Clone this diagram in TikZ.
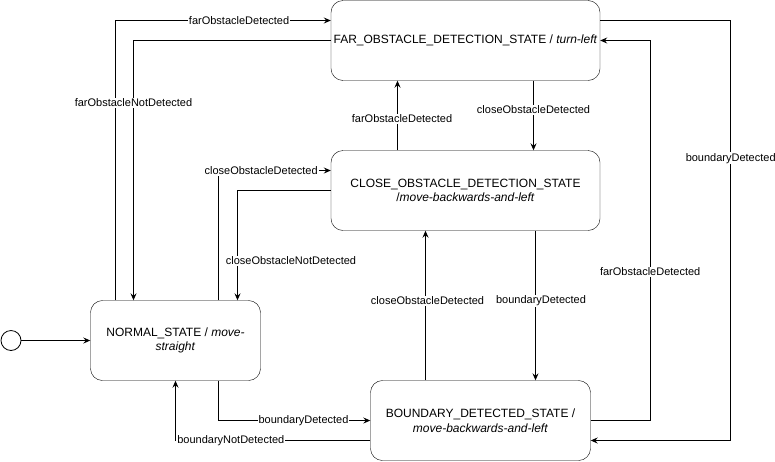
\documentclass[tikz,border=0pt]{standalone}
\usepackage{fontspec}
\setmainfont{Liberation Sans}
\usetikzlibrary{arrows.meta}

\begin{document}
\begin{tikzpicture}[x=1pt,y=-1pt,
    state/.style={draw,rounded corners=12pt,minimum height=80pt,inner sep=0pt,align=center,font=\fontsize{12}{14.5}\selectfont},
    tr/.style={draw,line width=0.8pt,-{Stealth[length=7pt,width=6pt,inset=2.5pt]}},
    lbl/.style={fill=white,inner sep=1pt,font=\fontsize{11}{13}\selectfont}]
\useasboundingbox (0,0) rectangle (775,461);
\node[state,minimum width=269pt] (far) at (465.5,40.5) {FAR\_OBSTACLE\_DETECTION\_STATE / \textit{turn-left}};
\node[state,minimum width=269pt] (close) at (465.5,190.5) {CLOSE\_OBSTACLE\_DETECTION\_STATE\\/\textit{move-backwards-and-left}};
\node[state,minimum width=170pt] (normal) at (175.5,340.5) {NORMAL\_STATE / \textit{move-}\\\textit{straight}};
\node[state,minimum width=220pt] (bound) at (480.5,420.5) {BOUNDARY\_DETECTED\_STATE /\\\textit{move-backwards-and-left}};
\node[draw,circle,line width=0.8pt,minimum size=20pt,inner sep=0pt] (init) at (11,340.5) {};

\draw[tr] (init) -- (normal);
\draw[tr] ([xshift=-60pt]normal.north) |- node[lbl,pos=0.787]{farObstacleDetected} ([yshift=20pt]far.west);
\draw[tr] (far.west) -| node[lbl,pos=0.62]{farObstacleNotDetected} ([xshift=-42pt]normal.north);
\draw[tr] ([xshift=43pt]normal.north) |- node[lbl,pos=0.69]{closeObstacleDetected} ([yshift=20pt]close.west);
\draw[tr] (close.west) -| node[lbl,pos=0.82,xshift=53.5pt]{closeObstacleNotDetected} ([xshift=62pt]normal.north);
\draw[tr] ([xshift=-68pt]close.north) -- node[lbl,pos=0.45,xshift=4.5pt]{farObstacleDetected} ([xshift=-68pt]far.south);
\draw[tr] ([xshift=68pt]far.south) -- node[lbl,pos=0.42]{closeObstacleDetected} ([xshift=68pt]close.north);
\draw[tr] ([xshift=70pt]close.south) -- node[lbl,pos=0.47,xshift=5.5pt]{boundaryDetected} ([xshift=55pt]bound.north);
\draw[tr] ([xshift=-55pt]bound.north) -- node[lbl,pos=0.53,xshift=2pt]{closeObstacleDetected} ([xshift=-40pt]close.south);
\draw[tr] (bound.east) -| node[lbl,pos=0.696]{farObstacleDetected} ([xshift=50pt]far.east) -- (far.east);
\draw[tr] ([yshift=20pt]far.east) -| node[lbl,pos=0.664]{boundaryDetected} ([xshift=140pt,yshift=-20pt]bound.east) -- ([yshift=-20pt]bound.east);
\draw[tr] ([xshift=43pt]normal.south) |- node[lbl,pos=0.78]{boundaryDetected} (bound.west);
\draw[tr] ([yshift=-20pt]bound.west) -| node[lbl,pos=0.358]{boundaryNotDetected} (normal.south);
\end{tikzpicture}
\end{document}
